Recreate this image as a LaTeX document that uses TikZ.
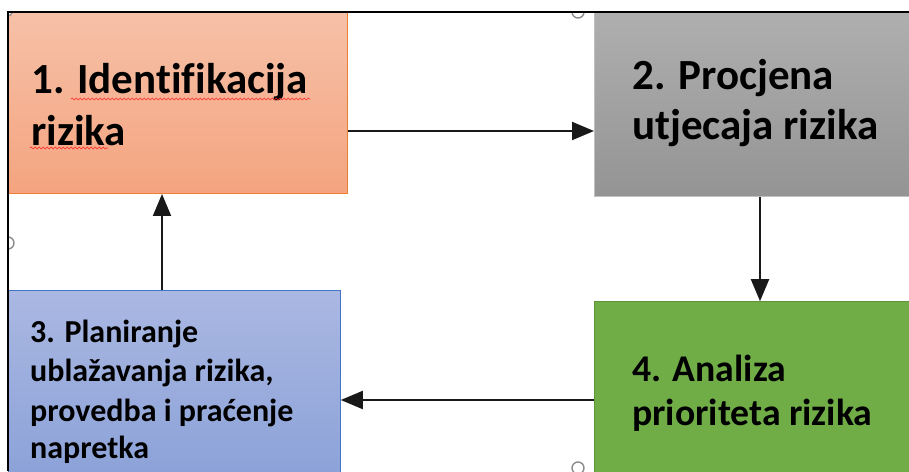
\documentclass[tikz,border=0pt]{standalone}
\usepackage{fontspec}
\setmainfont{Carlito}[Ligatures=NoCommon]
\usetikzlibrary{arrows.meta,decorations.pathmorphing}
\definecolor{orTop}{HTML}{F6C1A8}
\definecolor{orBot}{HTML}{F4A47F}
\definecolor{orLine}{HTML}{ED7D31}
\definecolor{grTop}{HTML}{AFAFAF}
\definecolor{grBot}{HTML}{949494}
\definecolor{grLine}{HTML}{C0C0C0}
\definecolor{blTop}{HTML}{AAB8E2}
\definecolor{blBot}{HTML}{8CA2D8}
\definecolor{blLine}{HTML}{4472C4}
\definecolor{gnFill}{HTML}{70AD47}
\definecolor{gnLine}{HTML}{5E9439}
\definecolor{handle}{HTML}{8C8C8C}
\tikzset{
  box/.style={rectangle, inner sep=0pt, line width=0.8pt, anchor=south west},
  big/.style={anchor=base west, inner sep=0pt, font=\bfseries\fontsize{43}{52}\selectfont},
  mid/.style={anchor=base west, inner sep=0pt, font=\bfseries\fontsize{37.7}{45}\selectfont},
  small/.style={anchor=base west, inner sep=0pt, font=\bfseries\fontsize{32}{38}\selectfont},
  arr/.style={line width=2pt, draw=black!90, -{Triangle[length=22pt,width=18pt]}},
  wavy/.style={draw=red!85, line width=0.6pt, decorate, decoration={snake, segment length=4pt, amplitude=0.9pt}},
  hdl/.style={draw=handle, fill=white, line width=1.4pt}
}
\begin{document}
\begin{tikzpicture}[x=1pt,y=1pt]
\useasboundingbox (0,0) rectangle (909,471);
% boxes
\node[box, draw=orLine, top color=orTop, bottom color=orBot, minimum width=339pt, minimum height=182pt] (b1) at (8,277) {};
\node[box, draw=grLine, top color=grTop, bottom color=grBot, minimum width=320pt, minimum height=185pt] (b2) at (594,274) {};
\node[box, draw=blLine, top color=blTop, bottom color=blBot, minimum width=332pt, minimum height=185pt] (b3) at (8,-5) {};
\node[box, draw=gnLine, fill=gnFill, minimum width=320pt, minimum height=174pt] (b4) at (594,-5) {};
% texts
\node[big] (t1a) at (31,377) {1. Identifikacija};
\node[big] (t1b) at (31,325) {rizika};
\node[big] (t2a) at (632,381) {2. Procjena};
\node[big] (t2b) at (632,331) {utjecaja rizika};
\node[small] (t3a) at (30,128) {3. Planiranje};
\node[small] (t3b) at (30,89) {ublažavanja rizika,};
\node[small] (t3c) at (30,50) {provedba i praćenje};
\node[small] (t3d) at (30,13) {napretka};
\node[mid] (t4a) at (632,89) {4. Analiza};
\node[mid] (t4b) at (632,46) {prioriteta rizika};
% spell-check underlines
\draw[wavy] (71,372) -- (310,372);
\draw[wavy] (30,323) -- (108,323);
% connectors
\coordinate (r1) at (0,340);
\coordinate (c2) at (760,0);
\coordinate (r4) at (0,71);
\coordinate (c3) at (162,0);
\draw[arr] (b1.east |- r1) -- (b2.west |- r1);
\draw[arr] (b2.south -| c2) -- (b4.north -| c2);
\draw[arr] (b4.west |- r4) -- (b3.east |- r4);
\draw[arr] (b3.north -| c3) -- (b1.south -| c3);
% selection handles, clipped to the frame
\begin{scope}
\clip (8,0) rectangle (909,459);
\draw[hdl] (578,459) circle (6pt);
\draw[hdl] (8,228) circle (6pt);
\draw[hdl] (578,3) circle (6pt);
\draw[hdl] (8,459) circle (4pt);
\end{scope}
% frame
\draw[line width=2pt, black] (8,0) -- (8,459) -- (909,459);
\end{tikzpicture}
\end{document}
